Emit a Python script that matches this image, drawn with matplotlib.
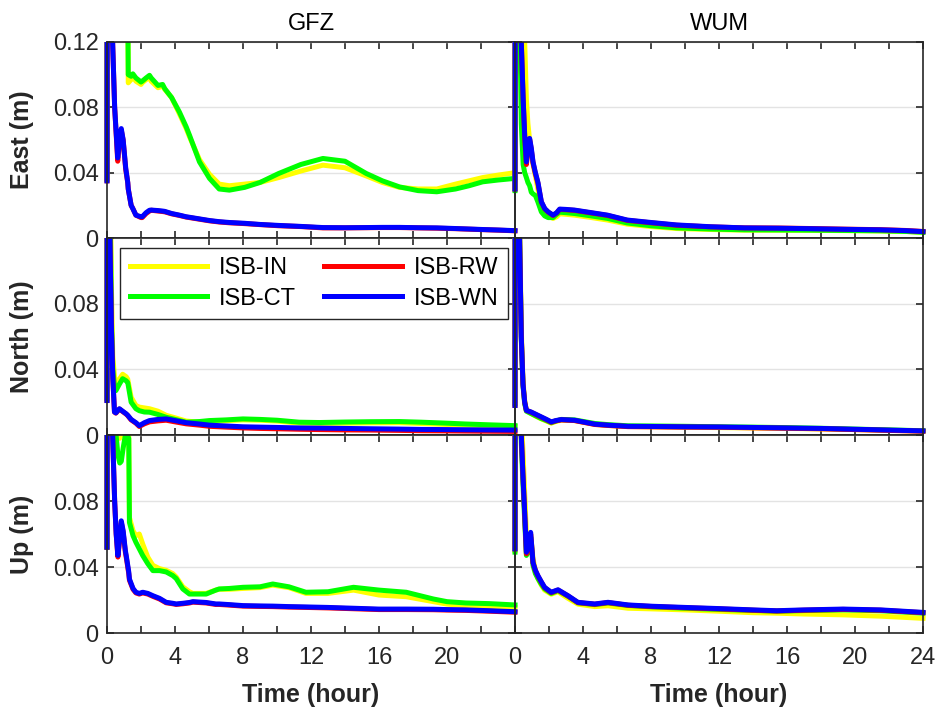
import numpy as np
import matplotlib
matplotlib.use("Agg")
import matplotlib.pyplot as plt
from matplotlib.ticker import FixedLocator
from matplotlib.transforms import Bbox, TransformedBbox

plt.rcParams['font.family'] = ['Liberation Sans', 'DejaVu Sans']

## data (m)
series_names = ['ISB-IN', 'ISB-CT', 'ISB-RW', 'ISB-WN']
series_colors = ['#ffff00', '#00ff00', '#ff0000', '#0000ff']
centers = ['GFZ', 'WUM']
components = ['East (m)', 'North (m)', 'Up (m)']
x_major = [0, 4, 8, 12, 16, 20, 24]
x_minor = [2, 6, 10, 14, 18, 22]
y_major = [0, 0.04, 0.08, 0.12]

# GFZ East
t_gfz_e = [0, 0.02, 0.3, 0.45, 0.63, 0.75, 0.84, 0.95, 1.1, 1.22, 1.25, 1.42, 1.52, 1.7, 2.0,
           2.07, 2.3, 2.5, 2.6, 3.0, 3.27, 3.4, 3.8, 4.26, 4.66, 4.85, 5.44, 6.03, 6.6, 7.2,
           8.1, 9.0, 10.1, 11.4, 12.7, 14.0, 15.25, 16.2, 17.2, 18.3, 19.4, 20.5, 21.3, 22.1,
           23.0, 24.0]
gfz_e_in = [0.036, 0.3, 0.25, 0.22, 0.20, 0.19, 0.18, 0.17, 0.16, 0.15, 0.095, 0.097, 0.099, 0.096,
            0.094, 0.095, 0.097, 0.098, 0.096, 0.092, 0.093, 0.091, 0.086, 0.076, 0.067, 0.062,
            0.048, 0.039, 0.033, 0.032, 0.033, 0.034, 0.037, 0.041, 0.0446, 0.043, 0.038, 0.034,
            0.031, 0.030, 0.030, 0.033, 0.035, 0.037, 0.0385, 0.040]
gfz_e_ct = [0.036, 0.3, 0.25, 0.22, 0.20, 0.19, 0.18, 0.17, 0.16, 0.15, 0.100, 0.099, 0.1005, 0.098,
            0.0955, 0.096, 0.098, 0.0996, 0.098, 0.0934, 0.094, 0.0914, 0.086, 0.0771, 0.068, 0.063,
            0.0466, 0.0365, 0.030, 0.0293, 0.031, 0.034, 0.0395, 0.045, 0.0487, 0.047, 0.0395,
            0.035, 0.0313, 0.029, 0.0283, 0.030, 0.032, 0.0344, 0.0355, 0.0365]
gfz_e_rw = [0.035, 0.3, 0.13, 0.08, 0.047, 0.060, 0.066, 0.060, 0.042, 0.034, 0.030, 0.020, 0.018,
            0.014, 0.0125, 0.0125, 0.015, 0.0165, 0.017, 0.0165, 0.0162, 0.016, 0.0148, 0.0138,
            0.0128, 0.0125, 0.0115, 0.0105, 0.0098, 0.0093, 0.0088, 0.0082, 0.0075, 0.007, 0.0062,
            0.0062, 0.0063, 0.0064, 0.0064, 0.0062, 0.0060, 0.0057, 0.0054, 0.0051, 0.0048, 0.0044]
gfz_e_wn = [0.035, 0.3, 0.13, 0.08, 0.049, 0.062, 0.067, 0.060, 0.043, 0.034, 0.030, 0.020, 0.018,
            0.014, 0.013, 0.013, 0.0155, 0.017, 0.0171, 0.0168, 0.0165, 0.0163, 0.015, 0.014,
            0.013, 0.0127, 0.0117, 0.0107, 0.010, 0.0095, 0.009, 0.0083, 0.0077, 0.0071, 0.0064,
            0.0063, 0.0064, 0.0065, 0.0065, 0.0063, 0.0062, 0.0058, 0.0055, 0.0052, 0.0049, 0.0045]

# GFZ North
t_gfz_n = [0, 0.02, 0.15, 0.26, 0.34, 0.44, 0.52, 0.73, 0.92, 1.13, 1.22, 1.42, 1.7, 1.9, 2.2,
           2.5, 3.0, 3.48, 4.0, 4.66, 5.44, 6.03, 7, 8, 9, 10, 11.3, 12.5, 14, 15.5, 17.2, 18.5,
           20, 21.1, 22.5, 24]
gfz_n_in = [0.022, 0.3, 0.2, 0.09, 0.048, 0.036, 0.031, 0.034, 0.037, 0.0355, 0.034, 0.023, 0.018,
            0.017, 0.0165, 0.016, 0.0145, 0.012, 0.0105, 0.0085, 0.0078, 0.0082, 0.0087, 0.0092,
            0.009, 0.0085, 0.0072, 0.007, 0.0072, 0.0074, 0.0075, 0.007, 0.0064, 0.006, 0.0056,
            0.0052]
gfz_n_ct = [0.022, 0.3, 0.17, 0.07, 0.04, 0.03, 0.027, 0.031, 0.0343, 0.033, 0.032, 0.020, 0.016,
            0.0148, 0.014, 0.0139, 0.0125, 0.0108, 0.0095, 0.0078, 0.0082, 0.0088, 0.0092, 0.0098,
            0.0095, 0.009, 0.0078, 0.0076, 0.0079, 0.0081, 0.0082, 0.0078, 0.0072, 0.0067, 0.0062,
            0.0057]
gfz_n_rw = [0.021, 0.3, 0.13, 0.065, 0.035, 0.014, 0.0133, 0.0158, 0.0143, 0.0127, 0.0118, 0.0092,
            0.0072, 0.0052, 0.0068, 0.008, 0.0086, 0.009, 0.008, 0.0068, 0.006, 0.0053, 0.0048,
            0.0043, 0.004, 0.0038, 0.0035, 0.0033, 0.0031, 0.003, 0.0028, 0.0026, 0.0025, 0.0024,
            0.0023, 0.0022]
gfz_n_wn = [0.021, 0.3, 0.13, 0.065, 0.035, 0.014, 0.0135, 0.016, 0.0145, 0.0129, 0.012, 0.0095,
            0.0075, 0.0057, 0.0075, 0.0088, 0.0095, 0.0098, 0.0088, 0.0075, 0.0067, 0.006, 0.0055,
            0.005, 0.0048, 0.0046, 0.0043, 0.0042, 0.004, 0.0038, 0.0036, 0.0034, 0.0033, 0.0032,
            0.0031, 0.003]

# GFZ Up
t_gfz_u = [0, 0.02, 0.3, 0.45, 0.54, 0.64, 0.75, 0.84, 0.95, 1.08, 1.13, 1.28, 1.32, 1.53, 1.7,
           1.9, 2.1, 2.4, 2.7, 3.09, 3.48, 3.87, 4.07, 4.46, 4.85, 5.05, 5.83, 6.4, 6.6, 7.2, 8.0,
           9.0, 9.75, 10.7, 11.7, 13, 14.5, 16, 17.6, 19.2, 20, 21.1, 22.5, 24]
gfz_u_in = [0.052, 0.3, 0.28, 0.2, 0.14, 0.125, 0.118, 0.12, 0.125, 0.13, 0.13, 0.12, 0.07, 0.062,
            0.059, 0.06, 0.054, 0.046, 0.041, 0.039, 0.038, 0.036, 0.034, 0.028, 0.025, 0.024,
            0.024, 0.026, 0.0265, 0.0265, 0.027, 0.0275, 0.029, 0.0275, 0.024, 0.024, 0.026, 0.023,
            0.022, 0.019, 0.0175, 0.0165, 0.016, 0.0155]
gfz_u_ct = [0.052, 0.3, 0.25, 0.15, 0.1195, 0.108, 0.103, 0.104, 0.112, 0.12, 0.121, 0.118, 0.067,
            0.059, 0.055, 0.051, 0.047, 0.042, 0.0378, 0.0378, 0.037, 0.0348, 0.033, 0.0267, 0.0236,
            0.0236, 0.0236, 0.026, 0.0267, 0.027, 0.0277, 0.028, 0.0297, 0.028, 0.0247, 0.025,
            0.0277, 0.026, 0.0247, 0.0206, 0.019, 0.0182, 0.0178, 0.017]
gfz_u_rw = [0.052, 0.3, 0.13, 0.08, 0.06, 0.046, 0.057, 0.067, 0.061, 0.049, 0.046, 0.036, 0.032,
            0.0265, 0.0243, 0.0236, 0.0243, 0.0236, 0.0222, 0.0206, 0.0183, 0.0177, 0.0173, 0.0177,
            0.0182, 0.0187, 0.0182, 0.0173, 0.0173, 0.0169, 0.0163, 0.0161, 0.016, 0.0157, 0.0155,
            0.0152, 0.0147, 0.0142, 0.0142, 0.0141, 0.0139, 0.0137, 0.0132, 0.0126]
gfz_u_wn = [0.052, 0.3, 0.13, 0.08, 0.06, 0.047, 0.058, 0.068, 0.062, 0.05, 0.047, 0.037, 0.0327,
            0.027, 0.0247, 0.024, 0.0247, 0.024, 0.0226, 0.021, 0.0186, 0.018, 0.0176, 0.018,
            0.0185, 0.019, 0.0185, 0.0176, 0.0176, 0.0172, 0.0166, 0.0164, 0.0163, 0.016, 0.0158,
            0.0155, 0.015, 0.0145, 0.0145, 0.0144, 0.0142, 0.014, 0.0135, 0.0129]

# WUM East
t_wum_e = [0, 0.02, 0.3, 0.37, 0.48, 0.57, 0.67, 0.76, 0.86, 0.96, 1.06, 1.2, 1.35, 1.55, 1.75,
           1.95, 2.24, 2.45, 2.63, 3.0, 3.5, 4.5, 5.44, 6.6, 8, 9.5, 11.5, 13.5, 15.5, 17.4, 19.5,
           21.5, 23, 24]
wum_e_in = [0.030, 0.3, 0.3, 0.25, 0.18, 0.12, 0.085, 0.07, 0.06, 0.052, 0.045, 0.038, 0.03, 0.02,
            0.016, 0.0135, 0.012, 0.013, 0.0148, 0.0145, 0.014, 0.0125, 0.011, 0.0085, 0.007,
            0.0058, 0.0052, 0.0048, 0.0048, 0.0047, 0.0045, 0.0043, 0.004, 0.0035]
wum_e_ct = [0.029, 0.3, 0.12, 0.07, 0.045, 0.040, 0.037, 0.034, 0.032, 0.028, 0.027, 0.026, 0.022,
            0.016, 0.0135, 0.0125, 0.0125, 0.0145, 0.0158, 0.0155, 0.015, 0.0135, 0.012, 0.0092,
            0.0075, 0.0062, 0.0055, 0.005, 0.0049, 0.0048, 0.0046, 0.0044, 0.004, 0.0035]
wum_e_rw = [0.030, 0.3, 0.3, 0.12, 0.085, 0.062, 0.045, 0.054, 0.0605, 0.054, 0.046, 0.0395, 0.0335,
            0.022, 0.0178, 0.0158, 0.0138, 0.0153, 0.0175, 0.0173, 0.0169, 0.0153, 0.0138, 0.0108,
            0.0093, 0.0078, 0.0068, 0.0062, 0.0061, 0.0058, 0.0054, 0.0051, 0.0046, 0.004]
wum_e_wn = [0.030, 0.3, 0.3, 0.12, 0.085, 0.063, 0.0466, 0.055, 0.061, 0.055, 0.0466, 0.040, 0.034,
            0.0222, 0.018, 0.016, 0.014, 0.0155, 0.0177, 0.0175, 0.0171, 0.0155, 0.014, 0.011,
            0.0095, 0.008, 0.0069, 0.0062, 0.006, 0.0057, 0.0053, 0.005, 0.0045, 0.0039]

# WUM North
t_wum_n = [0, 0.02, 0.27, 0.37, 0.47, 0.57, 0.67, 0.95, 1.25, 1.55, 1.85, 2.13, 2.4, 2.72, 3.5,
           4.7, 5.5, 6.65, 8, 10, 12, 14, 16, 18, 20, 22, 24]
wum_n_in = [0.019, 0.3, 0.13, 0.065, 0.033, 0.021, 0.015, 0.0132, 0.0113, 0.0098, 0.0085, 0.0072,
            0.0082, 0.009, 0.0088, 0.0065, 0.0058, 0.0052, 0.005, 0.0047, 0.0045, 0.0043, 0.004,
            0.0037, 0.0033, 0.0029, 0.0024]
wum_n_ct = [0.019, 0.3, 0.12, 0.058, 0.03, 0.019, 0.0145, 0.013, 0.0115, 0.01, 0.0088, 0.0075,
            0.0085, 0.0095, 0.0092, 0.007, 0.0063, 0.0056, 0.0055, 0.0053, 0.005, 0.0048, 0.0045,
            0.0041, 0.0036, 0.0031, 0.0026]
wum_n_rw = [0.018, 0.3, 0.12, 0.06, 0.031, 0.02, 0.015, 0.0138, 0.0123, 0.0108, 0.0093, 0.0078,
            0.0086, 0.0092, 0.0088, 0.0064, 0.0058, 0.0051, 0.005, 0.0048, 0.0047, 0.0044, 0.0041,
            0.0038, 0.0033, 0.0028, 0.0023]
wum_n_wn = [0.018, 0.3, 0.12, 0.06, 0.031, 0.02, 0.015, 0.014, 0.0125, 0.011, 0.0095, 0.008,
            0.0088, 0.0094, 0.009, 0.0066, 0.006, 0.0053, 0.0052, 0.005, 0.0049, 0.0046, 0.0043,
            0.004, 0.0035, 0.003, 0.0025]

# WUM Up
t_wum_u = [0, 0.02, 0.37, 0.47, 0.57, 0.67, 0.8, 0.92, 1.06, 1.2, 1.35, 1.55, 1.74, 2.13, 2.53,
           3.12, 3.7, 4.69, 5.47, 6.65, 8.1, 10, 12, 14, 15.4, 17, 19.3, 21.5, 24]
wum_u_in = [0.05, 0.3, 0.13, 0.11, 0.085, 0.06, 0.055, 0.06, 0.045, 0.038, 0.033, 0.029, 0.026,
            0.0235, 0.025, 0.021, 0.0175, 0.016, 0.0165, 0.015, 0.0146, 0.014, 0.0132, 0.0123,
            0.012, 0.0115, 0.011, 0.0102, 0.0089]
wum_u_ct = [0.049, 0.3, 0.115, 0.09, 0.068, 0.047, 0.05, 0.058, 0.041, 0.036, 0.033, 0.0295,
            0.0268, 0.024, 0.0257, 0.0222, 0.0183, 0.0172, 0.0182, 0.0167, 0.0158, 0.015, 0.0143,
            0.0137, 0.0132, 0.0136, 0.014, 0.0135, 0.012]
wum_u_rw = [0.051, 0.3, 0.12, 0.095, 0.072, 0.048, 0.051, 0.06, 0.0425, 0.0378, 0.0345, 0.0308,
            0.0275, 0.0245, 0.026, 0.0224, 0.0184, 0.0174, 0.0184, 0.0168, 0.016, 0.0153, 0.0146,
            0.0138, 0.0133, 0.0138, 0.0143, 0.0138, 0.0123]
wum_u_wn = [0.051, 0.3, 0.12, 0.095, 0.073, 0.049, 0.052, 0.061, 0.0427, 0.038, 0.0347, 0.031,
            0.0277, 0.0247, 0.0262, 0.0226, 0.0186, 0.0176, 0.0186, 0.017, 0.0162, 0.0155, 0.0148,
            0.014, 0.0135, 0.014, 0.0145, 0.014, 0.0125]

panels = {
    (0, 0): (t_gfz_e, [gfz_e_in, gfz_e_ct, gfz_e_rw, gfz_e_wn]),
    (1, 0): (t_gfz_n, [gfz_n_in, gfz_n_ct, gfz_n_rw, gfz_n_wn]),
    (2, 0): (t_gfz_u, [gfz_u_in, gfz_u_ct, gfz_u_rw, gfz_u_wn]),
    (0, 1): (t_wum_e, [wum_e_in, wum_e_ct, wum_e_rw, wum_e_wn]),
    (1, 1): (t_wum_n, [wum_n_in, wum_n_ct, wum_n_rw, wum_n_wn]),
    (2, 1): (t_wum_u, [wum_u_in, wum_u_ct, wum_u_rw, wum_u_wn]),
}

## figure layout (pixels of a 938x707 canvas)
W, H = 938, 707
fig = plt.figure(figsize=(W / 100, H / 100), dpi=100)
col_x = [107, 515]
col_w = 408
row_y = [(42, 238), (238, 435), (435, 633)]
dark = '#262626'

axes = {}
for (r, c), (t, vals) in panels.items():
    y_top, y_bot = row_y[r]
    ax = fig.add_axes([col_x[c] / W, 1 - y_bot / H, col_w / W, (y_bot - y_top) / H])
    ax.set_facecolor('none')
    axes[(r, c)] = ax
    # let the thick lines overhang the left/right spines a little, like the original
    clip = TransformedBbox(Bbox([[-0.012, 0], [1.012, 1]]), ax.transAxes)
    for v, name, col in zip(vals, series_names, series_colors):
        ln, = ax.plot(t, v, color=col, lw=3.6, label=name, solid_joinstyle='round')
        ln.set_clip_box(clip)
    ax.set_xlim(0, 24)
    ax.set_ylim(0, 0.12)
    ax.xaxis.set_major_locator(FixedLocator(x_major))
    ax.xaxis.set_minor_locator(FixedLocator(x_minor))
    ax.yaxis.set_major_locator(FixedLocator(y_major))
    ax.grid(axis='y', color='#e3e3e3', lw=1.0)
    ax.set_axisbelow(True)
    ax.tick_params(which='both', direction='in', top=True, right=True, length=5,
                   width=1.2, color=dark, labelcolor=dark, labelsize=17)
    ax.tick_params(axis='x', pad=10)
    ax.tick_params(axis='y', pad=6)
    for s in ax.spines.values():
        s.set_linewidth(1.2)
        s.set_color(dark)

    if c == 0:
        ylabs = ['0', '0.04', '0.08', '0.12'] if r == 0 else ['0', '0.04', '0.08', '']
        ax.set_yticklabels(ylabs)
    else:
        ax.set_yticklabels([])
    if r == 2:
        xlabs = [str(v) for v in x_major]
        if c == 0:
            xlabs[-1] = ''
        ax.set_xticklabels(xlabs)
    else:
        ax.set_xticklabels([])

## text
for c, name in enumerate(centers):
    xc = (col_x[c] + col_w / 2) / W
    fig.text(xc, 1 - 24 / H, name, ha='center', va='center', fontsize=17, color='k')
    fig.text(xc, 1 - 695 / H, 'Time (hour)', ha='center', va='center', fontsize=18,
             fontweight='bold', color=dark)
for r, name in enumerate(components):
    yc = 1 - (row_y[r][0] + row_y[r][1]) / 2 / H
    fig.text(22 / W, yc, name, ha='center', va='center', rotation=90, fontsize=18,
             fontweight='bold', color=dark)

## legend
ax = axes[(1, 0)]
leg = ax.legend(ncol=2, loc='upper left', bbox_to_anchor=(0.032, 0.594, 0.951, 0.355),
                mode='expand', fontsize=17, fancybox=False, edgecolor=dark, framealpha=1,
                handlelength=3.3, handletextpad=0.5, labelspacing=0.35, borderaxespad=0,
                borderpad=0.4)
leg.get_frame().set_linewidth(1.0)

fig.savefig('out.png', dpi=100, facecolor='white')
